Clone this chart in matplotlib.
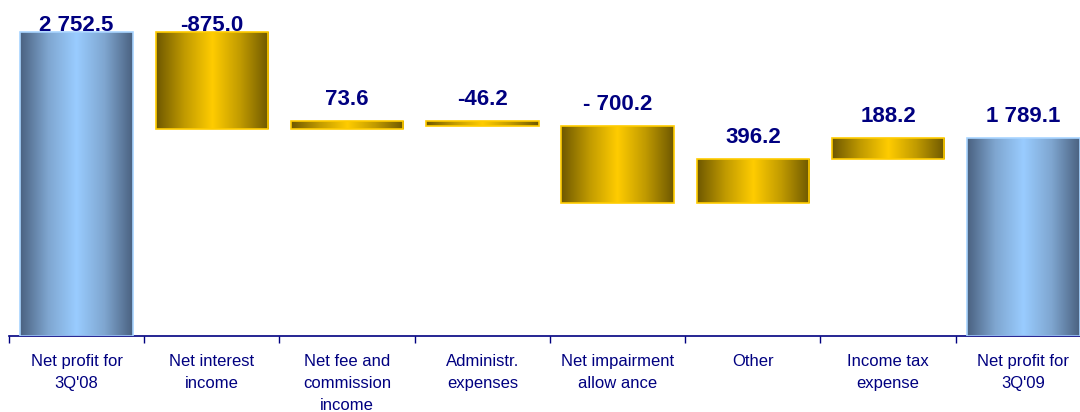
import numpy as np
import matplotlib
matplotlib.use("Agg")
import matplotlib.pyplot as plt
from matplotlib.colors import LinearSegmentedColormap

categories = ["Net profit for\n3Q'08", "Net interest\nincome", "Net fee and\ncommission\nincome",
              "Administr.\nexpenses", "Net impairment\nallow ance", "Other", "Income tax\nexpense",
              "Net profit for\n3Q'09"]
values = [2752.5, -875.0, 73.6, -46.2, -700.2, 396.2, 188.2, 1789.1]
labels = ["2 752.5", "-875.0", "73.6", "-46.2", "- 700.2", "396.2", "188.2", "1 789.1"]
is_total = [True, False, False, False, False, False, False, True]

plt.rcParams['font.family'] = ['Liberation Sans', 'DejaVu Sans']
navy = '#000080'

fig = plt.figure(figsize=(10.8, 4.12), dpi=100)
ax = fig.add_axes([9/1080, 76/412, 1082/1080, 336/412])

blue_cmap = LinearSegmentedColormap.from_list('b', ['#4a6180', '#7fa6d0', '#99ccff', '#7fa6d0', '#4a6180'])
gold_cmap = LinearSegmentedColormap.from_list('g', ['#6e5800', '#c09a00', '#ffcc00', '#c09a00', '#6e5800'])
grad = np.linspace(0, 1, 256).reshape(1, -1)

x = np.arange(len(values))
width = 0.83
running = 0.0
bottoms, heights = [], []
for v, t in zip(values, is_total):
    if t:
        bottoms.append(0.0); heights.append(v); running = v
    else:
        new = running + v
        bottoms.append(min(running, new)); heights.append(abs(v)); running = new

ymax = values[0] * 336 / 304
ax.set_xlim(-0.5, len(values) - 0.5)
ax.set_ylim(0, ymax)

for xi, b, h, t in zip(x, bottoms, heights, is_total):
    ec = '#a8d4ff' if t else '#ffcc00'
    cmap = blue_cmap if t else gold_cmap
    rect = ax.bar(xi, h, bottom=b, width=width, facecolor='none', edgecolor=ec, linewidth=1.2, zorder=3)[0]
    im = ax.imshow(grad, cmap=cmap, aspect='auto', interpolation='bilinear',
                   extent=[xi - width/2, xi + width/2, b, b + h], zorder=2)
    im.set_clip_path(rect)

# value labels
gap = 16 * ymax / 336
top_limit = values[0] + 1 * ymax / 336
for xi, b, h, lab in zip(x, bottoms, heights, labels):
    y = min(b + h + gap, top_limit)
    ax.text(xi, y, lab, ha='center', va='baseline', fontsize=16, fontweight='bold', color=navy)

ax.set_xticks(x)
ax.set_xticklabels(categories, fontsize=12, color=navy, linespacing=1.6)
ax.set_xticks(np.arange(-0.5, len(values), 1), minor=True)
ax.tick_params(axis='x', which='major', length=0, pad=13)
ax.tick_params(axis='x', which='minor', length=5, color=navy, width=1)
ax.set_yticks([])
for s in ['top', 'right', 'left']:
    ax.spines[s].set_visible(False)
ax.spines['bottom'].set_color(navy)
ax.spines['bottom'].set_linewidth(1.2)

fig.savefig('out.png', dpi=100)
